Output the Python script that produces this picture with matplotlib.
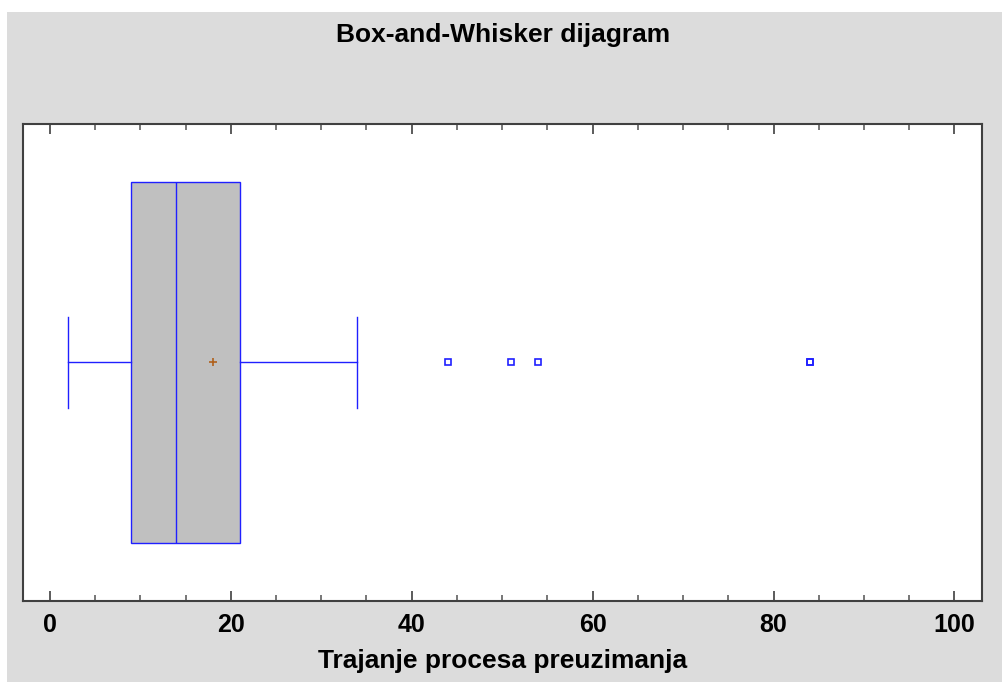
import matplotlib
matplotlib.use('Agg')
import matplotlib.pyplot as plt
from matplotlib.patches import Rectangle
from matplotlib.ticker import MultipleLocator

# box-and-whisker summary
q1 = 9
median = 14
q3 = 21
mean = 18
whisker_lo = 2
whisker_hi = 34
outliers = [44, 51, 54, 84, 84]

title = 'Box-and-Whisker dijagram'
xlabel = 'Trajanje procesa preuzimanja'

plt.rcParams['font.family'] = ['Liberation Sans', 'DejaVu Sans']
plt.rcParams['font.weight'] = 'bold'

blue = '#2020ff'


def main():
    fig = plt.figure(figsize=(10.03, 6.82), dpi=100, facecolor='white')
    # grey panel behind the plot
    fig.patches.append(Rectangle((7 / 1003, 0), 1 - 7 / 1003, 1 - 12 / 682,
                                 transform=fig.transFigure, facecolor='#dcdcdc',
                                 edgecolor='none', zorder=-10))
    ax = fig.add_axes([0.0226, 0.1188, 0.9561, 0.6994])

    stats = [dict(med=median, q1=q1, q3=q3, whislo=whisker_lo,
                  whishi=whisker_hi, mean=mean, fliers=outliers)]
    ax.bxp(stats, positions=[0.5], widths=0.755, capwidths=0.19,
           orientation='horizontal', showmeans=True, patch_artist=True,
           boxprops=dict(facecolor='#c0c0c0', edgecolor=blue, linewidth=1.0),
           medianprops=dict(color=blue, linewidth=1.0),
           whiskerprops=dict(color=blue, linewidth=1.0),
           capprops=dict(color=blue, linewidth=1.0),
           meanprops=dict(marker='+', markeredgecolor='#b0601c',
                          markersize=6, markeredgewidth=1.2),
           flierprops=dict(marker='s', markerfacecolor='none',
                           markeredgecolor=blue, markersize=4,
                           markeredgewidth=1.2))

    ax.set_xlim(-3, 103)
    ax.set_ylim(0, 1)
    ax.set_yticks([])
    ax.xaxis.set_major_locator(MultipleLocator(20))
    ax.xaxis.set_minor_locator(MultipleLocator(5))
    ax.tick_params(axis='x', which='both', direction='in', top=True,
                   bottom=True, colors='#606060', labelcolor='black',
                   labelsize=18, pad=9)
    ax.tick_params(axis='x', which='major', length=7.5, width=1.2,
                   colors='#404040', labelcolor='black')
    ax.tick_params(axis='x', which='minor', length=4, width=1.2)
    for lbl in ax.get_xticklabels():
        lbl.set_fontweight('bold')
    for s in ax.spines.values():
        s.set_color('#404040')
        s.set_linewidth(1.5)

    ax.set_xlabel(xlabel, fontsize=19, fontweight='bold', labelpad=8.5)
    fig.text(0.502, 1 - 42 / 682, title, ha='center', va='baseline',
             fontsize=19, fontweight='bold')

    fig.savefig('out.png', dpi=100)


if __name__ == "__main__":
    main()
